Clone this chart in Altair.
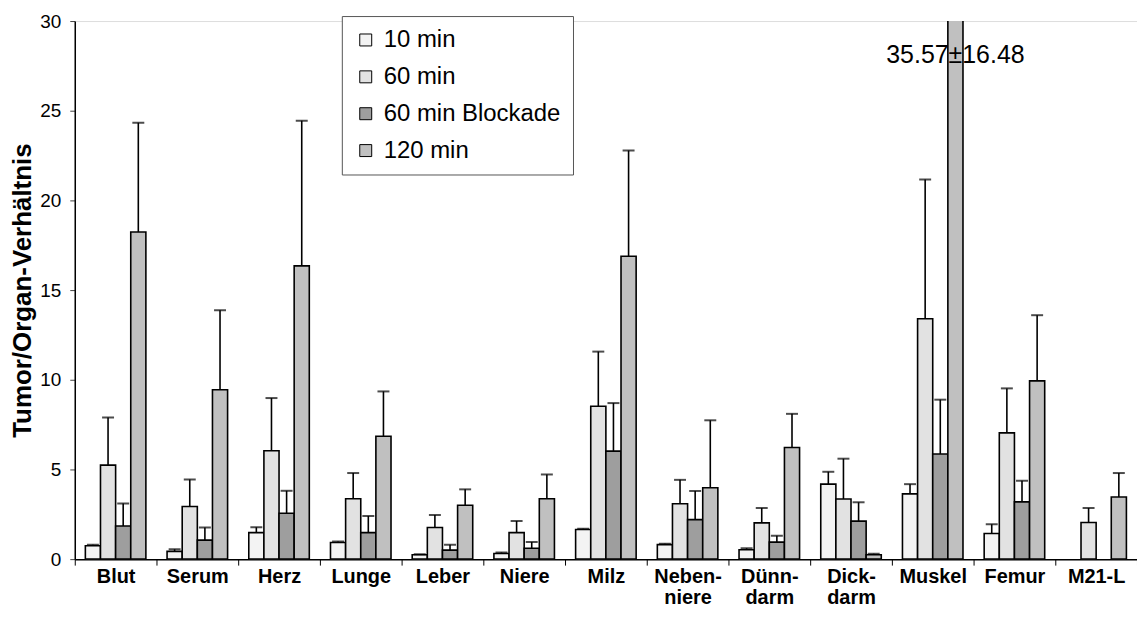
import altair as alt
import pandas as pd

categories = ["Blut", "Serum", "Herz", "Lunge", "Leber", "Niere", "Milz",
              "Neben-\nniere", "Dünn-\ndarm", "Dick-\ndarm", "Muskel", "Femur", "M21-L"]
series = ["10 min", "60 min", "60 min Blockade", "120 min"]

mean_10 = [0.75, 0.43, 1.48, 0.93, 0.24, 0.31, 1.65, 0.81, 0.52, 4.18, 3.64, 1.43, None]
err_10 = [0.05, 0.12, 0.30, 0.05, 0.03, 0.06, 0.05, 0.05, 0.08, 0.69, 0.54, 0.51, None]
mean_60 = [5.24, 2.93, 6.04, 3.37, 1.76, 1.48, 8.52, 3.09, 2.02, 3.35, 13.40, 7.04, 2.04]
err_60 = [2.66, 1.51, 2.94, 1.43, 0.70, 0.65, 3.05, 1.33, 0.83, 2.25, 7.77, 2.48, 0.81]
mean_block = [1.85, 1.06, 2.56, 1.48, 0.50, 0.61, 6.02, 2.20, 0.95, 2.12, 5.86, 3.19, None]
err_block = [1.25, 0.70, 1.25, 0.93, 0.30, 0.35, 2.68, 1.60, 0.36, 1.05, 3.03, 1.18, None]
mean_120 = [18.24, 9.44, 16.35, 6.85, 3.00, 3.37, 16.89, 3.98, 6.22, 0.24, 35.57, 9.94, 3.46]
err_120 = [6.09, 4.43, 8.09, 2.50, 0.89, 1.35, 5.89, 3.76, 1.88, 0.06, 16.48, 3.66, 1.34]

colors = ["#f3f3f3", "#e2e2e2", "#9e9e9e", "#c0c0c0"]

rows = []
for s, means, errs in zip(series, [mean_10, mean_60, mean_block, mean_120],
                          [err_10, err_60, err_block, err_120]):
    for c, m, e in zip(categories, means, errs):
        if m is None:
            continue
        rows.append({"cat": c, "series": s, "mean": m, "top": m + e})
df = pd.DataFrame(rows)

big_idx = 10
ann = pd.DataFrame([{
    "cat": categories[big_idx], "series": series[3], "y": 30,
    "label": f"{mean_120[big_idx]:.2f}±{err_120[big_idx]:.2f}",
}])

FONT = "Liberation Sans"

x_enc = alt.X("cat:N", sort=categories, title=None,
              scale=alt.Scale(paddingInner=0, paddingOuter=0),
              axis=alt.Axis(labelAngle=0, labelFont=FONT, labelFontSize=20,
                            labelFontWeight="bold", labelColor="black",
                            labelExpr="split(datum.label, '\\n')",
                            labelAlign="center", labelFlush=False,
                            labelOffset=0, labelLimit=200,
                            labelLineHeight=22, labelPadding=11,
                            tickBand="extent", tickSize=6, tickColor="black",
                            domainColor="black", domainWidth=1.5))
xo_enc = alt.XOffset("series:N", sort=series,
                     scale=alt.Scale(domain=series, paddingInner=0, paddingOuter=0.7))
y_scale = alt.Scale(domain=[0, 30], nice=False, zero=True)

bars = alt.Chart(df).mark_bar(stroke="black", strokeWidth=1.6, clip=True).encode(
    x=x_enc,
    xOffset=xo_enc,
    y=alt.Y("mean:Q", scale=y_scale, title="Tumor/Organ-Verhältnis",
            axis=alt.Axis(values=[0, 5, 10, 15, 20, 25, 30], grid=False,
                          labelFont=FONT, labelFontSize=19, labelColor="black",
                          labelPadding=9, tickSize=5, tickColor="#444",
                          domainColor="black", domainWidth=1.5,
                          titleFont=FONT, titleFontSize=26, titleFontWeight="bold",
                          titleColor="black", titlePadding=4)),
    fill=alt.Fill("series:N", sort=series,
                  scale=alt.Scale(domain=series, range=colors),
                  legend=alt.Legend(orient="none", legendX=268, legendY=-5,
                                    title=None, strokeColor="#555", fillColor="white",
                                    padding=12, labelFont=FONT, labelFontSize=24,
                                    labelColor="black", symbolType="square",
                                    symbolSize=144, symbolStrokeColor="black",
                                    symbolStrokeWidth=1, rowPadding=13,
                                    labelOffset=6, labelLimit=400)),
)

rules = alt.Chart(df).mark_rule(color="black", strokeWidth=1.6, clip=True).encode(
    x=alt.X("cat:N", sort=categories),
    xOffset=xo_enc,
    y=alt.Y("mean:Q", scale=y_scale),
    y2="top:Q",
)

caps = alt.Chart(df).mark_tick(color="black", thickness=2, size=12, clip=True).encode(
    x=alt.X("cat:N", sort=categories),
    xOffset=xo_enc,
    y=alt.Y("top:Q", scale=y_scale),
)

label = alt.Chart(ann).mark_text(font=FONT, fontSize=25, color="black",
                                 align="center", baseline="alphabetic", dy=42).encode(
    x=alt.X("cat:N", sort=categories),
    xOffset=xo_enc,
    y=alt.Y("y:Q", scale=y_scale),
    text="label:N",
)

chart = alt.layer(rules, bars, caps, label).properties(
    width=1066, height=540,
    autosize=alt.AutoSizeParams(type="none"),
    padding={"left": 67, "top": 12, "right": 0, "bottom": 60},
).configure_view(stroke=None).configure(background="white")

chart.save("out.html", embed_options={"renderer": "svg", "actions": False})
